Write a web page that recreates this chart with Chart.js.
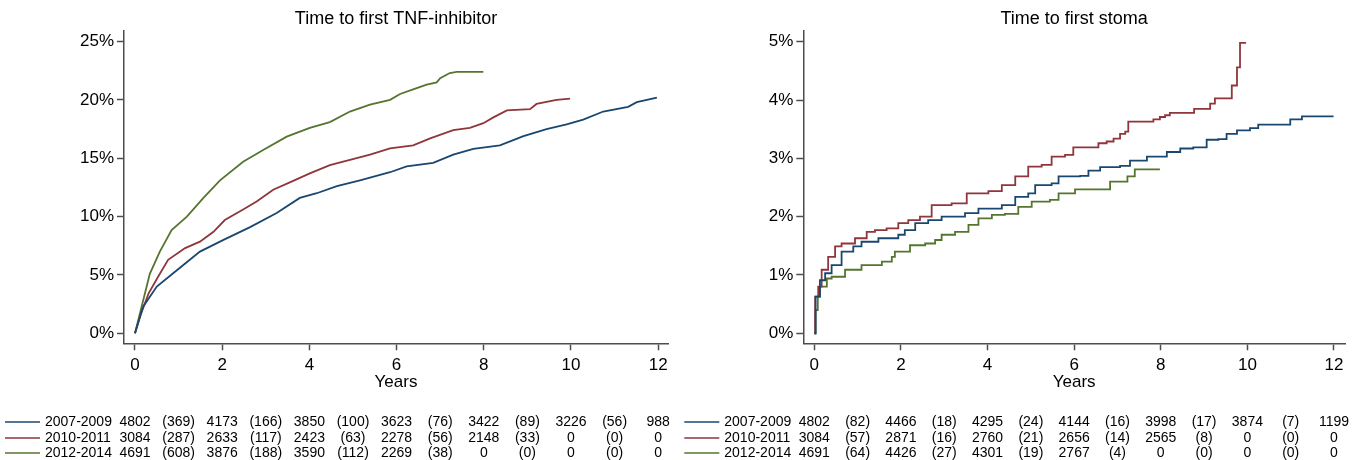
<!DOCTYPE html>
<html>
<head>
<meta charset="utf-8">
<script src="https://cdn.jsdelivr.net/npm/chart.js@4.4.0/dist/chart.umd.min.js"></script>
<style>
html, body { margin: 0; padding: 0; background: #fff; }
#wrap { position: relative; width: 1364px; height: 460px; }
canvas { position: absolute; top: 0; }
</style>
</head>
<body>
<div id="wrap">
  <canvas id="tnf" width="682" height="460" style="left:0"></canvas>
  <canvas id="stoma" width="682" height="460" style="left:682px"></canvas>
</div>
<script>
// groups and shared ticks
const groups = ['2007-2009', '2010-2011', '2012-2014'];
const colors = ['#1a476f', '#90353b', '#55752f'];
const xTicks = [0, 2, 4, 6, 8, 10, 12];
const tnfTicks = [0, 5, 10, 15, 20, 25];
const stomaTicks = [0, 1, 2, 3, 4, 5];

// time to first TNF-inhibitor, cumulative %
const tnf0709Years = [0, 0.19, 0.5, 0.96, 1.49, 2.03, 2.64, 3.25, 3.78, 4.17, 4.63, 5.16, 5.85, 6.23, 6.84, 7.30, 7.76, 8.37, 8.91, 9.44, 9.90, 10.28, 10.74, 11.31, 11.51, 11.97];
const tnf0709 = [0, 2.3, 4.0, 5.4, 7.0, 8.0, 9.1, 10.3, 11.6, 12.0, 12.6, 13.1, 13.8, 14.3, 14.6, 15.3, 15.8, 16.1, 16.9, 17.5, 17.9, 18.3, 19.0, 19.4, 19.8, 20.2];
const tnf1011Years = [0, 0.11, 0.31, 0.53, 0.76, 1.15, 1.49, 1.80, 2.06, 2.48, 2.79, 3.17, 3.59, 4.01, 4.47, 4.93, 5.39, 5.85, 6.38, 6.77, 7.30, 7.68, 7.99, 8.22, 8.53, 9.06, 9.21, 9.67, 9.98];
const tnf1011 = [0, 1.4, 3.4, 4.85, 6.3, 7.3, 7.85, 8.7, 9.7, 10.6, 11.3, 12.3, 13.0, 13.7, 14.4, 14.85, 15.3, 15.85, 16.1, 16.7, 17.4, 17.6, 18.0, 18.5, 19.1, 19.2, 19.65, 20.0, 20.1];
const tnf1214Years = [0, 0.34, 0.57, 0.84, 1.19, 1.57, 1.95, 2.48, 2.94, 3.48, 4.01, 4.47, 4.93, 5.39, 5.85, 6.08, 6.38, 6.69, 6.92, 7.0, 7.22, 7.38, 7.99];
const tnf1214 = [0, 5.1, 7.0, 8.85, 10.0, 11.6, 13.1, 14.7, 15.7, 16.85, 17.6, 18.1, 19.0, 19.6, 20.0, 20.5, 20.9, 21.3, 21.5, 21.85, 22.3, 22.4, 22.4];

// time to first stoma, cumulative %
const stoma0709Years = [0, 0.03, 0.13, 0.25, 0.40, 0.63, 0.9, 1.09, 1.48, 1.94, 2.09, 2.33, 2.63, 2.94, 3.48, 3.79, 4.33, 4.64, 4.94, 5.10, 5.48, 5.64, 6.14, 6.33, 6.6, 7.06, 7.29, 7.68, 8.14, 8.45, 8.75, 9.06, 9.33, 9.52, 9.76, 10.06, 10.25, 10.99, 11.26, 11.99];
const stoma0709 = [0, 0.63, 0.91, 1.03, 1.17, 1.4, 1.49, 1.57, 1.63, 1.69, 1.77, 1.89, 1.94, 2.0, 2.06, 2.14, 2.2, 2.34, 2.4, 2.54, 2.57, 2.69, 2.7, 2.79, 2.85, 2.87, 2.96, 3.03, 3.11, 3.17, 3.19, 3.32, 3.33, 3.42, 3.48, 3.52, 3.58, 3.67, 3.72, 3.72];
const stoma1011Years = [0, 0.02, 0.09, 0.17, 0.32, 0.48, 0.63, 0.94, 1.21, 1.40, 1.67, 1.94, 2.17, 2.44, 2.71, 3.17, 3.52, 4.02, 4.33, 4.64, 4.94, 5.25, 5.48, 5.79, 5.98, 6.56, 6.75, 6.91, 7.06, 7.18, 7.25, 7.83, 7.98, 8.10, 8.21, 8.77, 9.14, 9.25, 9.64, 9.76, 9.83, 9.97];
const stoma1011 = [0, 0.63, 0.8, 1.09, 1.31, 1.49, 1.54, 1.63, 1.74, 1.77, 1.8, 1.89, 1.94, 2.0, 2.2, 2.23, 2.4, 2.44, 2.54, 2.69, 2.86, 2.89, 3.03, 3.06, 3.19, 3.26, 3.29, 3.34, 3.42, 3.46, 3.63, 3.67, 3.71, 3.74, 3.78, 3.85, 3.94, 4.03, 4.25, 4.56, 4.98, 4.98];
const stoma1214Years = [0, 0.03, 0.08, 0.13, 0.29, 0.40, 0.71, 1.09, 1.56, 1.79, 1.86, 2.21, 2.56, 2.79, 2.94, 3.25, 3.56, 3.79, 4.10, 4.40, 4.71, 5.02, 5.44, 5.64, 6.02, 6.83, 7.23, 7.40, 7.98];
const stoma1214 = [0, 0.4, 0.63, 0.8, 0.94, 0.97, 1.09, 1.17, 1.23, 1.31, 1.4, 1.51, 1.54, 1.6, 1.69, 1.74, 1.86, 1.97, 2.03, 2.05, 2.17, 2.26, 2.29, 2.4, 2.47, 2.6, 2.69, 2.81, 2.81];

// numbers at risk (at 0,2,...,12 years) and events (in between)
const tnfAtRisk = [[4802, 4173, 3850, 3623, 3422, 3226, 988], [3084, 2633, 2423, 2278, 2148, 0, 0], [4691, 3876, 3590, 2269, 0, 0, 0]];
const tnfEvents = [[369, 166, 100, 76, 89, 56], [287, 117, 63, 56, 33, 0], [608, 188, 112, 38, 0, 0]];
const stomaAtRisk = [[4802, 4466, 4295, 4144, 3998, 3874, 1199], [3084, 2871, 2760, 2656, 2565, 0, 0], [4691, 4426, 4301, 2767, 0, 0, 0]];
const stomaEvents = [[82, 18, 24, 16, 17, 7], [57, 16, 21, 14, 8, 0], [64, 27, 19, 4, 0, 0]];

const FONT = "'Liberation Sans', Arial, sans-serif";
const axisColor = '#4d4d4d';
Chart.defaults.font.family = FONT;
Chart.defaults.color = '#000';

const pts = (xs, ys) => xs.map((t, i) => ({ x: t, y: ys[i] }));

// risk table under the plot, columns follow the x scale
const riskTable = {
  id: 'riskTable',
  afterDraw(chart, args, opts) {
    const ctx = chart.ctx;
    const xs = chart.scales.x;
    const x0 = xs.getPixelForValue(0);
    ctx.save();
    ctx.font = '14px ' + FONT;
    ctx.textBaseline = 'middle';
    opts.atRisk.forEach((row, r) => {
      const y = opts.rowY[r];
      ctx.strokeStyle = colors[r];
      ctx.lineWidth = 1.6;
      ctx.beginPath();
      ctx.moveTo(x0 - 130, y);
      ctx.lineTo(x0 - 95, y);
      ctx.stroke();
      ctx.fillStyle = '#000';
      ctx.textAlign = 'left';
      ctx.fillText(groups[r], x0 - 90, y);
      ctx.textAlign = 'center';
      for (let i = 0; i <= 12; i++) {
        const txt = i % 2 === 0 ? String(row[i / 2]) : '(' + opts.events[r][(i - 1) / 2] + ')';
        ctx.fillText(txt, xs.getPixelForValue(i), y);
      }
    });
    ctx.restore();
  }
};

function makeChart(id, title, series, yTicks, yMin, yMax, xMin, xMax, yWidth, padRight, atRisk, events, stepped) {
  return new Chart(document.getElementById(id), {
    type: 'line',
    data: {
      datasets: series.map((s, i) => ({
        label: groups[i],
        data: s,
        borderColor: colors[i],
        borderWidth: 1.8,
        pointRadius: 0,
        fill: false,
        tension: 0,
        stepped: stepped
      }))
    },
    options: {
      responsive: false,
      animation: false,
      layout: { padding: { left: 0, right: padRight, top: 0, bottom: 66.7 } },
      plugins: {
        legend: { display: false },
        tooltip: { enabled: false },
        title: {
          display: true, text: title, fullSize: false,
          font: { size: 18, weight: 'normal' }, color: '#000',
          padding: { top: 8, bottom: 1.4 }
        },
        riskTable: { atRisk: atRisk, events: events, rowY: [422, 438, 453] }
      },
      scales: {
        x: {
          type: 'linear', min: xMin, max: xMax,
          afterBuildTicks: s => { s.ticks = xTicks.map(v => ({ value: v })); },
          afterFit: s => { s.height = 50; },
          grid: { drawOnChartArea: false, drawTicks: true, tickLength: 7, tickWidth: 1.5, tickColor: axisColor },
          border: { display: true, color: axisColor, width: 1.5 },
          ticks: { font: { size: 17 }, color: '#000', padding: 5, maxRotation: 0, autoSkip: false },
          title: { display: true, text: 'Years', font: { size: 17 }, color: '#000', padding: { top: 0, bottom: 1 } }
        },
        y: {
          type: 'linear', min: yMin, max: yMax,
          afterBuildTicks: s => { s.ticks = yTicks.map(v => ({ value: v })); },
          afterFit: s => { s.width = yWidth; },
          grid: { drawOnChartArea: false, drawTicks: true, tickLength: 7, tickWidth: 1.5, tickColor: axisColor },
          border: { display: true, color: axisColor, width: 1.5 },
          ticks: { font: { size: 17 }, color: '#000', padding: 3, callback: v => v + '%' }
        }
      }
    },
    plugins: [riskTable]
  });
}

makeChart('tnf', 'Time to first TNF-inhibitor',
  [pts(tnf0709Years, tnf0709), pts(tnf1011Years, tnf1011), pts(tnf1214Years, tnf1214)],
  tnfTicks, -0.857, 25.9, -0.252, 12.225, 124, 14, tnfAtRisk, tnfEvents, false);

makeChart('stoma', 'Time to first stoma',
  [pts(stoma0709Years, stoma0709), pts(stoma1011Years, stoma1011), pts(stoma1214Years, stoma1214)],
  stomaTicks, -0.1715, 5.185, -0.254, 12.254, 121.3, 19, stomaAtRisk, stomaEvents, true);
</script>
</body>
</html>
